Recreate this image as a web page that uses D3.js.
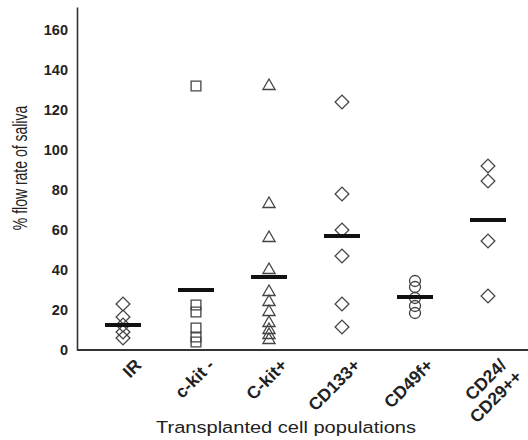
<!DOCTYPE html>
<html>
<head>
<meta charset="utf-8">
<script src="https://cdn.jsdelivr.net/npm/d3@7"></script>
<style>
  body { margin: 0; background: #fff; }
  svg { display: block; font-family: "Liberation Sans", Arial, sans-serif; }
</style>
</head>
<body>
<svg id="chart" width="528" height="440"></svg>
<script>
// categories and values
const categories = ["IR", "c-kit -", "C-kit+", "CD133+", "CD49f+", "CD24/CD29++"];
const labelLines = [["IR"], ["c-kit -"], ["C-kit+"], ["CD133+"], ["CD49f+"], ["CD24/", "CD29++"]];
const shapes = ["diamond", "square", "triangle", "diamond", "circle", "diamond"];

const irValues = [23, 16.5, 12.5, 9, 6];
const ckitNegValues = [132, 22.5, 19, 11, 6.5, 4];
const ckitPosValues = [132, 73, 56, 40, 29, 24, 19, 13.5, 10, 7.5, 5];
const cd133Values = [124, 78, 60, 47, 23, 11.5];
const cd49fValues = [34.5, 31.5, 26, 22, 18.5];
const cd24Values = [92, 84.5, 54.5, 27];
const seriesValues = [irValues, ckitNegValues, ckitPosValues, cd133Values, cd49fValues, cd24Values];

const meanValues = [12.5, 30, 36.5, 57, 26.5, 65];
const yTicks = [0, 20, 40, 60, 80, 100, 120, 140, 160];

const margin = {top: 7, right: 0, bottom: 90, left: 77};
const W = 528, H = 440;

const svg = d3.select("#chart");

const x = d3.scalePoint()
    .domain(categories)
    .range([margin.left + 46, W - 40]);

const y = d3.scaleLinear()
    .domain([0, 171.5])
    .range([H - margin.bottom, margin.top]);

// y axis: line and labels only
const yAxis = svg.append("g")
    .attr("transform", `translate(${margin.left},0)`)
    .call(d3.axisLeft(y).tickValues(yTicks).tickSize(0).tickPadding(9));
yAxis.select(".domain").attr("stroke", "#333").attr("stroke-width", 1.6);
yAxis.selectAll("text")
    .attr("font-size", "14.5px")
    .attr("font-weight", "bold")
    .attr("fill", "#222");

// x axis line
svg.append("line")
    .attr("x1", margin.left).attr("x2", W)
    .attr("y1", y(0)).attr("y2", y(0))
    .attr("stroke", "#333")
    .attr("stroke-width", 2);

// category labels, rotated
const catLabels = svg.append("g");
categories.forEach((c, i) => {
    const t = catLabels.append("text")
        .attr("transform", `translate(${x(c) + 15},${y(0) + 12}) rotate(-45)`)
        .attr("text-anchor", "end")
        .attr("font-size", "17.5px")
        .attr("font-weight", "bold")
        .attr("fill", "#222");
    labelLines[i].forEach((ln, j) => {
        t.append("tspan")
            .attr("x", j === 0 ? 0 : 3)
            .attr("dy", j === 0 ? "0.35em" : "1.1em")
            .text(ln);
    });
});

// markers
const symbolFor = {
    diamond: d3.symbol().type(d3.symbolSquare).size(95),
    square: d3.symbol().type(d3.symbolSquare).size(95),
    triangle: d3.symbol().type(d3.symbolTriangle).size(64),
    circle: d3.symbol().type(d3.symbolCircle).size(95)
};

categories.forEach((c, i) => {
    const g = svg.append("g");
    g.selectAll("path")
        .data(seriesValues[i])
        .join("path")
        .attr("d", symbolFor[shapes[i]]())
        .attr("transform", d => `translate(${x(c)},${y(d)})` + (shapes[i] === "diamond" ? " rotate(45)" : ""))
        .attr("fill", "none")
        .attr("stroke", "#444")
        .attr("stroke-width", 1.3);
});

// mean bars
svg.append("g").selectAll("line")
    .data(meanValues)
    .join("line")
    .attr("x1", (d, i) => x(categories[i]) - 18)
    .attr("x2", (d, i) => x(categories[i]) + 18)
    .attr("y1", d => y(d))
    .attr("y2", d => y(d))
    .attr("stroke", "#111")
    .attr("stroke-width", 4);

// axis titles (source figure is stretched sideways, so the glyphs are widened)
svg.append("text")
    .attr("transform", `translate(27,${(y(0) + y(160)) / 2 - 22}) scale(1.5,1) rotate(-90)`)
    .attr("text-anchor", "middle")
    .attr("font-size", "14px")
    .attr("fill", "#222")
    .text("% flow rate of saliva");

svg.append("text")
    .attr("transform", "translate(286,433) scale(1.18,1)")
    .attr("text-anchor", "middle")
    .attr("font-size", "17px")
    .attr("fill", "#222")
    .text("Transplanted cell populations");
</script>
</body>
</html>
